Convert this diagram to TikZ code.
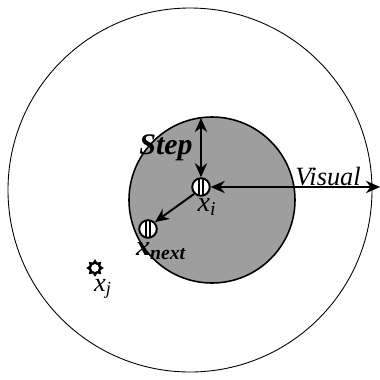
\documentclass[tikz,border=0pt]{standalone}
\usepackage{fontspec}
\setmainfont{Liberation Serif}
\usetikzlibrary{arrows.meta,shapes.geometric}

\tikzset{
  agent/.style={circle, draw, line width=1.1pt, fill=white, minimum size=10pt, inner sep=0pt,
    path picture={
      \draw[line width=1pt] ([xshift=-1.3pt]path picture bounding box.north) -- ([xshift=-1.3pt]path picture bounding box.south);
      \draw[line width=1pt] ([xshift=1.3pt]path picture bounding box.north) -- ([xshift=1.3pt]path picture bounding box.south);
    }},
  sunmark/.style={star, star points=8, star point ratio=1.5, fill=black, minimum size=10pt, inner sep=0pt},
  ray/.style={line width=1.1pt, arrows={-Stealth[length=8pt,width=7pt]}},
  lbl/.style={font=\fontsize{15}{15}\selectfont\itshape}
}

\begin{document}
\begin{tikzpicture}[x=0.02cm, y=-0.02cm]
  \useasboundingbox (0,0) rectangle (380,380);

  % Regions: visual range and step range
  \draw[line width=0.5pt] (190,190) circle [radius=182];
  \draw[line width=0.9pt, fill=black!38] (212,200) circle [radius=83];

  % Agents
  \node[agent] (xi) at (201,187) {};
  \node[agent] (xnext) at (148,229) {};
  \node[sunmark] (xj) at (95,268) {};
  \fill[white] (xj.center) circle (2.2pt);

  % Range ends
  \coordinate (steptop) at (201,118);
  \coordinate (visualend) at (380,187);

  % Arrows
  \draw[ray, arrows={Stealth[length=8pt,width=7pt]-Stealth[length=8pt,width=7pt]}] (steptop) -- (xi.north);
  \draw[ray, arrows={Stealth[length=8pt,width=7pt]-Stealth[length=8pt,width=7pt]}] (xi.east) -- (visualend);
  \draw[ray] (xi.south west) -- (xnext.north east);

  % Labels
  \node[font=\fontsize{17}{17}\selectfont\bfseries\itshape] (steplbl) at (166,148) {Step};
  \node[lbl] (visuallbl) at (328,177) {Visual};
  \node[lbl, font=\fontsize{16}{16}\selectfont\itshape] (xilbl) at (207,207) {x\textsubscript{i}};
  \node[lbl, font=\fontsize{16}{16}\selectfont\bfseries\itshape] (xnextlbl) at (161,251) {x\textsubscript{next}};
  \node[lbl] (xjlbl) at (103,289) {x\textsubscript{j}};
\end{tikzpicture}
\end{document}
